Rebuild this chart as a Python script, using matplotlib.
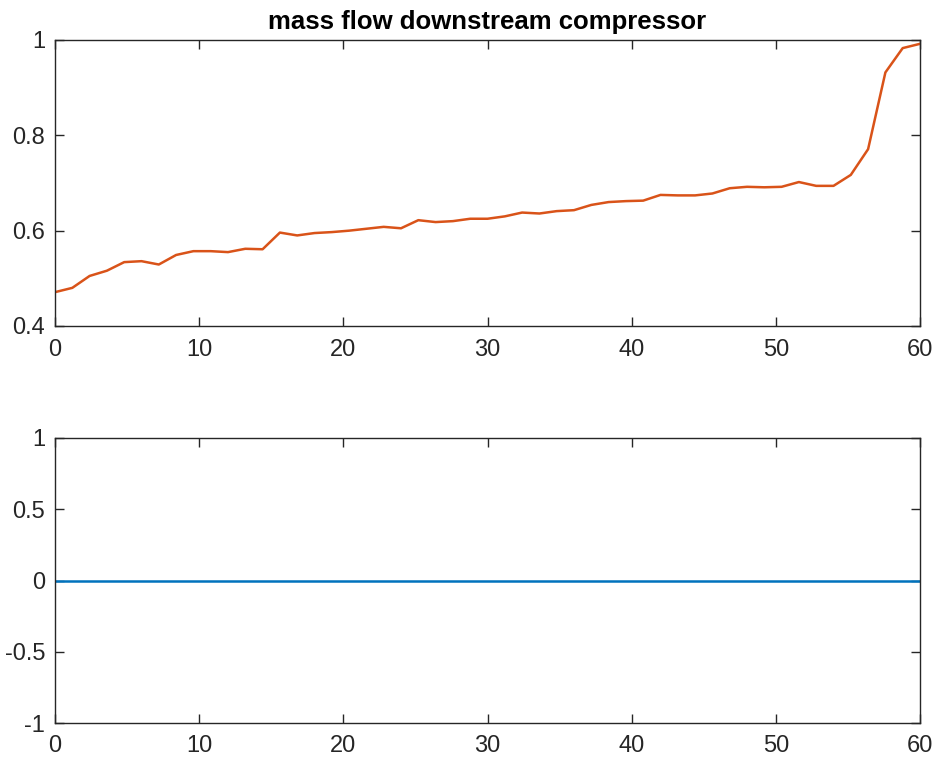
import numpy as np
import matplotlib
matplotlib.use("Agg")
import matplotlib.pyplot as plt

plt.rcParams['font.family'] = ['Liberation Sans', 'DejaVu Sans']

# Sample times and mass flow readings
time_s = np.arange(51) * 1.2
mass_flow = [
    0.471, 0.480, 0.505, 0.516, 0.534, 0.536, 0.529, 0.549, 0.557, 0.557,
    0.555, 0.562, 0.561, 0.596, 0.590, 0.595, 0.597, 0.600, 0.604, 0.608,
    0.605, 0.622, 0.618, 0.620, 0.625, 0.625, 0.630, 0.638, 0.636, 0.641,
    0.643, 0.654, 0.660, 0.662, 0.663, 0.675, 0.674, 0.674, 0.678, 0.689,
    0.692, 0.691, 0.692, 0.702, 0.694, 0.694, 0.717, 0.771, 0.932, 0.983,
    0.992,
]
second_signal = [0.0] * len(time_s)

x_ticks = [0, 10, 20, 30, 40, 50, 60]
top_yticks = [0.4, 0.6, 0.8, 1.0]
top_ylabels = ['0.4', '0.6', '0.8', '1']
bot_yticks = [-1, -0.5, 0, 0.5, 1]
bot_ylabels = ['-1', '-0.5', '0', '0.5', '1']

W, H = 936, 760
fig = plt.figure(figsize=(W / 100, H / 100), dpi=100)

def make_axes(left, top, right, bottom):
    return fig.add_axes([left / W, 1 - bottom / H, (right - left) / W, (bottom - top) / H])

ax1 = make_axes(55, 40, 920, 326)
ax2 = make_axes(55, 438, 920, 723)

axis_col = '#262626'
for ax in (ax1, ax2):
    for sp in ax.spines.values():
        sp.set_color(axis_col)
        sp.set_linewidth(1.0)
    ax.tick_params(direction='in', length=6.5, width=1.0, colors=axis_col,
                   labelsize=17, top=True, right=True)
    ax.tick_params(axis='x', pad=9)
    ax.tick_params(axis='y', pad=7)
    ax.set_xlim(0, 60)
    ax.set_xticks(x_ticks)
    ax.set_xticklabels([str(t) for t in x_ticks])

ax1.plot(time_s, mass_flow, color='#D95319', lw=1.8)
ax1.set_ylim(0.4, 1.0)
ax1.set_yticks(top_yticks)
ax1.set_yticklabels(top_ylabels)
ax1.set_title('mass flow downstream compressor', fontsize=18.5, fontweight='bold',
              color='black', pad=8)

ax2.plot(time_s, second_signal, color='#0072BD', lw=1.8)
ax2.set_ylim(-1, 1)
ax2.set_yticks(bot_yticks)
ax2.set_yticklabels(bot_ylabels)

fig.savefig('out.png', dpi=100)
